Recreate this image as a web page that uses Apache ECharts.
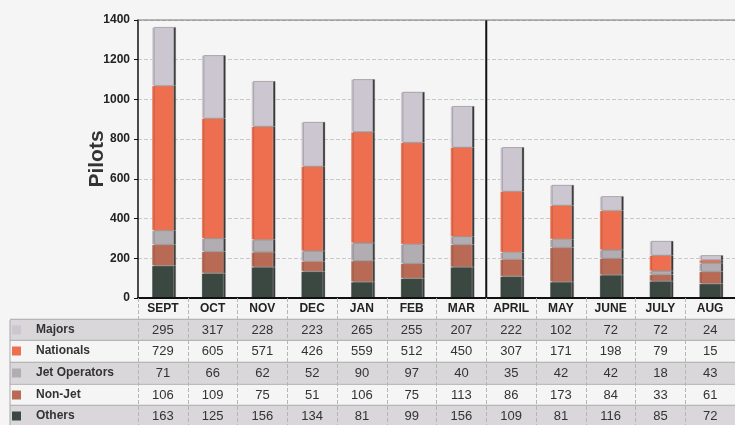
<!DOCTYPE html>
<html>
<head>
<meta charset="utf-8">
<script src="https://cdn.jsdelivr.net/npm/echarts@6/dist/echarts.min.js"></script>
<style>
  html, body { margin: 0; padding: 0; background: #f6f5f6; }
  #pilots { width: 735px; height: 425px; }
</style>
</head>
<body>
<div id="pilots"></div>
<script>
  // data
  const months = ['SEPT', 'OCT', 'NOV', 'DEC', 'JAN', 'FEB', 'MAR', 'APRIL', 'MAY', 'JUNE', 'JULY', 'AUG'];
  const majors = [295, 317, 228, 223, 265, 255, 207, 222, 102, 72, 72, 24];
  const nationals = [729, 605, 571, 426, 559, 512, 450, 307, 171, 198, 79, 15];
  const jetOperators = [71, 66, 62, 52, 90, 97, 40, 35, 42, 42, 18, 43];
  const nonJet = [106, 109, 75, 51, 106, 75, 113, 86, 173, 84, 33, 61];
  const others = [163, 125, 156, 134, 81, 99, 156, 109, 81, 116, 85, 72];
  const yTicks = { min: 0, max: 1400, interval: 200 };

  // table rows, top to bottom
  const rows = [
    { name: 'Majors', values: majors, color: '#cbc6cf' },
    { name: 'Nationals', values: nationals, color: '#ee6f4f' },
    { name: 'Jet Operators', values: jetOperators, color: '#b2acb3' },
    { name: 'Non-Jet', values: nonJet, color: '#b86a55' },
    { name: 'Others', values: others, color: '#3b4841' }
  ];

  const font = "'Liberation Sans Narrow', 'Liberation Sans', sans-serif";
  const axisY = 298;
  const headerCenter = 309;
  const rowCenters = [330, 351, 373, 395, 416];
  const rowH = 21.5;

  let chartDom = document.getElementById('pilots');
  let myChart = echarts.init(chartDom);

  let xAxes = [{
    type: 'category',
    data: months,
    z: 10,
    axisLine: { lineStyle: { color: '#111', width: 2 } },
    axisTick: { show: true, length: 130, lineStyle: { color: '#b5b5b5', type: 'dashed' } },
    axisLabel: {
      margin: headerCenter - axisY, verticalAlign: 'middle',
      fontFamily: font, fontWeight: 'bold', fontSize: 12, color: '#222'
    }
  }];
  rows.forEach((r, i) => {
    xAxes.push({
      type: 'category',
      data: r.values.map(v => String(v)),
      position: 'bottom',
      z: 10,
      axisLine: { show: false },
      axisTick: { show: false },
      axisLabel: {
        margin: rowCenters[i] - axisY, verticalAlign: 'middle',
        fontFamily: font, fontSize: 13, color: '#333'
      }
    });
  });

  // bars stack from the bottom: Others first, Majors on top
  let series = rows.slice().reverse().map(r => ({
    name: r.name,
    type: 'bar',
    stack: 'pilots',
    xAxisIndex: 0,
    barWidth: 22,
    z: 2,
    itemStyle: {
      color: r.color,
      borderColor: 'rgba(255,255,255,0.5)',
      borderWidth: 0.5,
      shadowColor: '#3a3a3a',
      shadowOffsetX: 2,
      shadowOffsetY: 0,
      shadowBlur: 0
    },
    data: r.values
  }));

  let graphics = [];
  rows.forEach((r, i) => {
    let top = rowCenters[i] - rowH / 2;
    if (i % 2 === 0) {
      graphics.push({
        type: 'rect', z: 0,
        shape: { x: 10, y: top, width: 725, height: rowH },
        style: { fill: '#d9d7da' }
      });
    }
    graphics.push({
      type: 'line', z: 1,
      shape: { x1: 10, y1: top, x2: 735, y2: top },
      style: { stroke: '#a9a9a9', lineWidth: 1 }
    });
    graphics.push({
      type: 'rect', z: 5,
      shape: { x: 12, y: rowCenters[i] - 4.5, width: 9, height: 9 },
      style: { fill: r.color }
    });
    graphics.push({
      type: 'text', z: 5,
      style: {
        x: 36, y: rowCenters[i], text: r.name, verticalAlign: 'middle',
        font: 'bold 12px ' + font, fill: '#333'
      }
    });
  });
  graphics.push({
    type: 'line', z: 1,
    shape: { x1: 10, y1: 320, x2: 10, y2: 425 },
    style: { stroke: '#a9a9a9', lineWidth: 1 }
  });

  let option = {
    backgroundColor: '#f6f5f6',
    animation: false,
    grid: { left: 138, right: -3, top: 20, bottom: 127, containLabel: false },
    xAxis: xAxes,
    yAxis: {
      type: 'value',
      min: yTicks.min, max: yTicks.max, interval: yTicks.interval,
      name: 'Pilots',
      nameLocation: 'middle',
      nameGap: 30,
      nameMoveOverlap: false,
      nameTextStyle: { fontFamily: 'Liberation Sans, sans-serif', fontSize: 21, fontWeight: 'bold', color: '#333' },
      axisLine: { show: true, lineStyle: { color: '#111', width: 1.5 } },
      axisTick: { show: true, length: 4, lineStyle: { color: '#111' } },
      axisLabel: {
        margin: 8, fontFamily: font, fontWeight: 'bold', fontSize: 12, color: '#222',
        formatter: v => String(v)
      },
      splitLine: { lineStyle: { color: '#c9c9c9', type: 'dashed' } }
    },
    graphic: graphics,
    series: series
  };
  option && myChart.setOption(option);

  // divider between MAR and APRIL
  let xMar = myChart.convertToPixel({ xAxisIndex: 0 }, 'MAR');
  let xApr = myChart.convertToPixel({ xAxisIndex: 0 }, 'APRIL');
  let yTop = myChart.convertToPixel({ yAxisIndex: 0 }, yTicks.max);
  let yBot = myChart.convertToPixel({ yAxisIndex: 0 }, yTicks.min);
  graphics.push({
    type: 'line', z: 3,
    shape: { x1: (xMar + xApr) / 2, y1: yTop, x2: (xMar + xApr) / 2, y2: yBot },
    style: { stroke: '#111', lineWidth: 2 }
  });
  graphics.push({
    type: 'line', z: 3,
    shape: { x1: 138, y1: yTop, x2: 735, y2: yTop },
    style: { stroke: '#777', lineWidth: 1 }
  });
  myChart.setOption({ graphic: graphics });
</script>
</body>
</html>
